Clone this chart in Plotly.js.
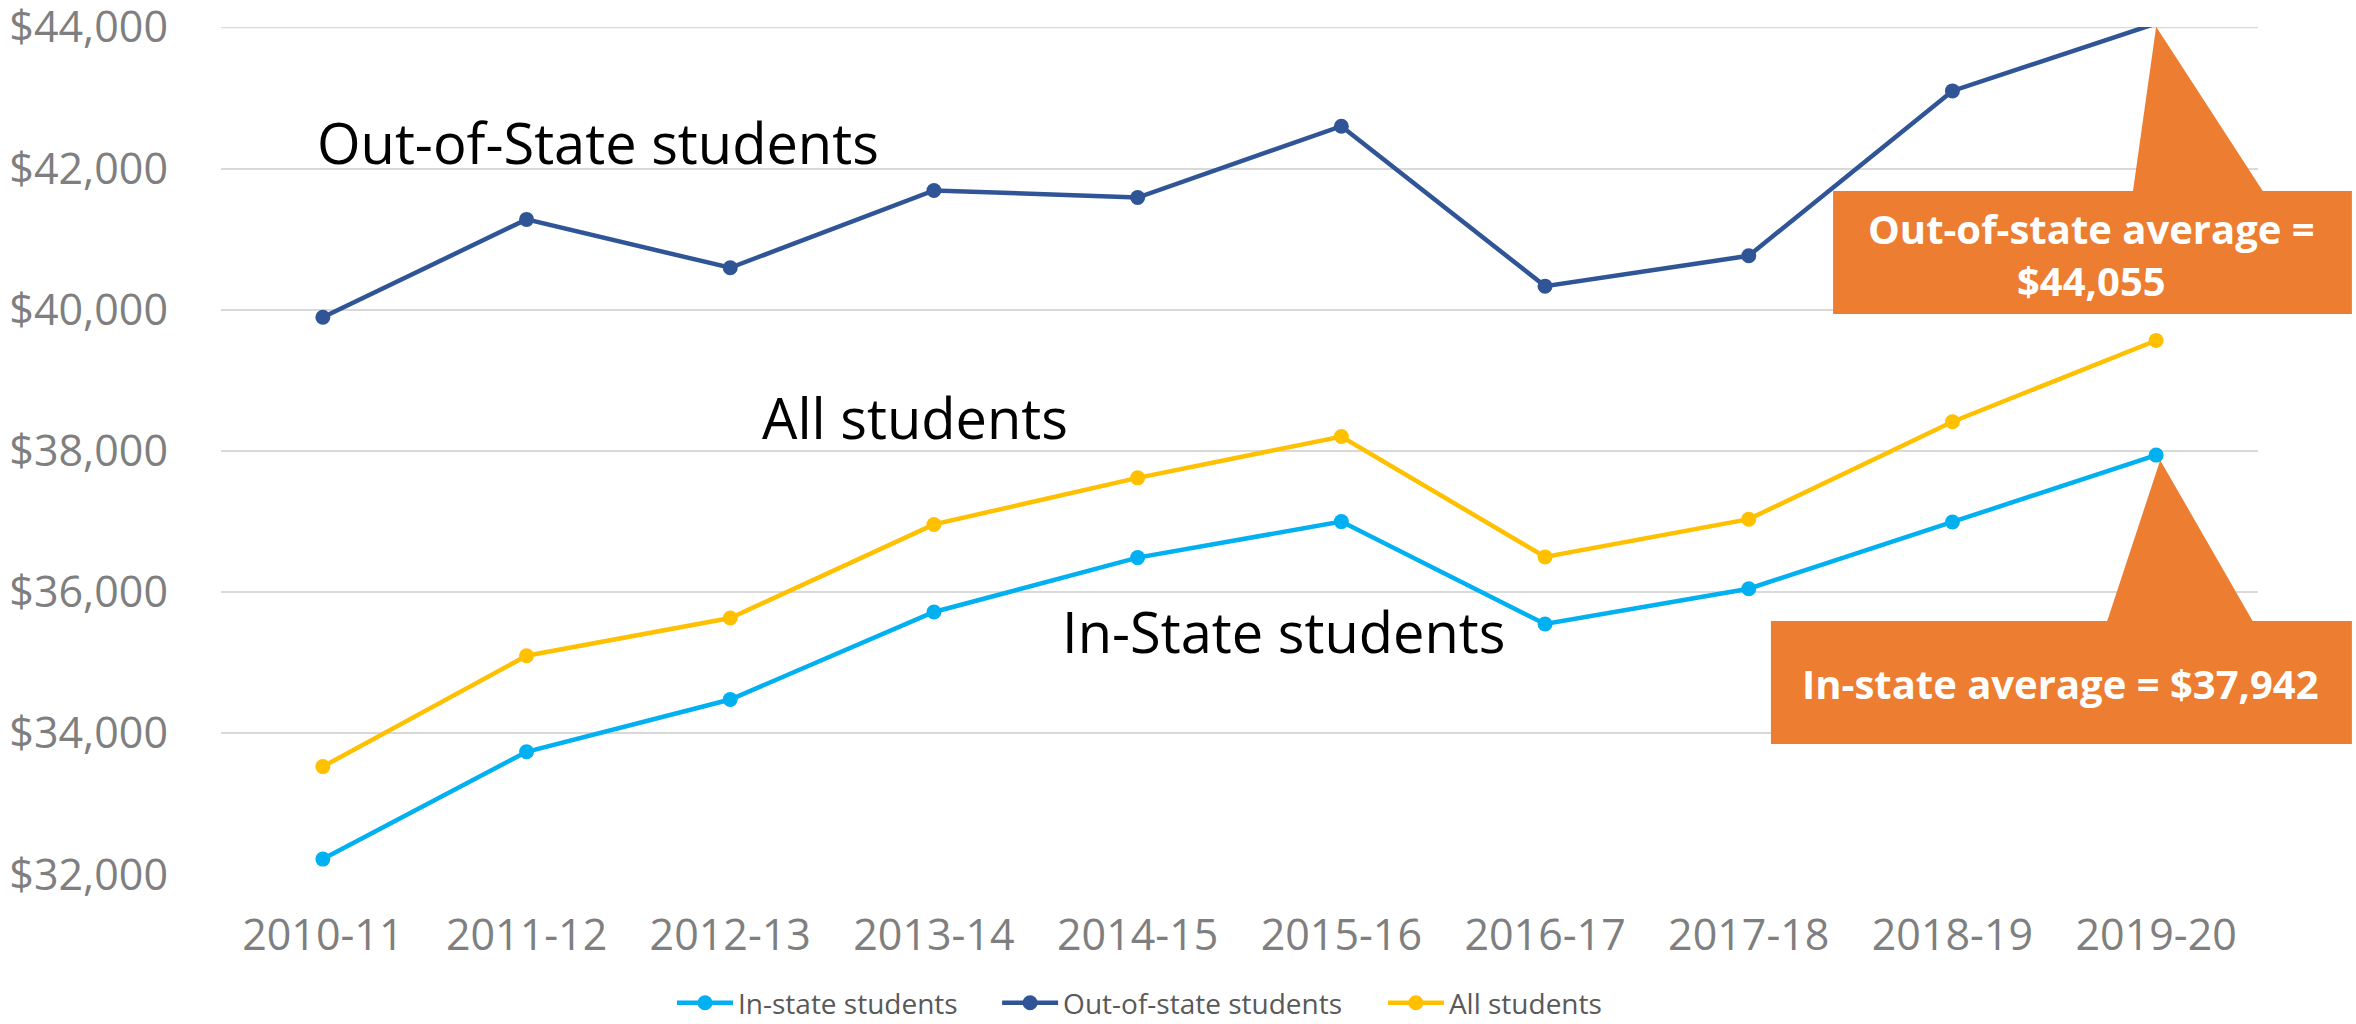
<!DOCTYPE html>
<html>
<head>
<meta charset="utf-8">
<script src="https://cdn.plot.ly/plotly-3.0.1.min.js"></script>
<style>
  html, body { margin: 0; padding: 0; background: #ffffff; }
  #chart { width: 2356px; height: 1024px; }
</style>
</head>
<body>
<div id="chart"></div>
<script>
// ---- Data ----
const years = ["2010-11", "2011-12", "2012-13", "2013-14", "2014-15",
               "2015-16", "2016-17", "2017-18", "2018-19", "2019-20"];
const inState  = [32220, 33740, 34480, 35720, 36490, 37000, 35550, 36050, 36995, 37942];
const outState = [39895, 41280, 40595, 41690, 41590, 42600, 40335, 40765, 43100, 44055];
const allStudents = [33530, 35100, 35635, 36960, 37620, 38205, 36500, 37035, 38415, 39565];
const seriesNames = ["In-state students", "Out-of-state students", "All students"];
const yTicks = [32000, 34000, 36000, 38000, 40000, 42000, 44000];

// ---- Styling ----
const colors = { inState: "#00B0F0", outState: "#2F5597", all: "#FFC000" };
const calloutColor = "#ED7D31";
const gridColor = "#D9D9D9";
const yMin = 31995, yMax = 44005;

function lineTrace(name, ys, color, legendId) {
  return {
    type: "scatter", mode: "lines+markers", name: name, legend: legendId,
    x: years, y: ys,
    line: { color: color, width: 4.5 },
    marker: { color: color, size: 15, symbol: "circle" },
    cliponaxis: false, hoverinfo: "skip"
  };
}

const traces = [
  lineTrace(seriesNames[0], inState, colors.inState, "legend"),
  lineTrace(seriesNames[1], outState, colors.outState, "legend2"),
  lineTrace(seriesNames[2], allStudents, colors.all, "legend3")
];

// helpers mapping data to paper coordinates for the callout pointers
const n = years.length;
const xPaper = i => (i + 0.5) / n;
const yPaper = v => (v - yMin) / (yMax - yMin);
const fmt = v => "$" + v.toLocaleString("en-US");

const last = n - 1;
const outTipX = xPaper(last), outTipY = yPaper(outState[last]);
const inTipX = xPaper(last) + 0.002, inTipY = yPaper(inState[last]);

const shapes = [
  // top gridline (Plotly drops the grid line sitting on the plot edge)
  { type: "line", xref: "paper", yref: "y", x0: 0, x1: 1, y0: yTicks[yTicks.length - 1], y1: yTicks[yTicks.length - 1],
    line: { color: gridColor, width: 2 }, layer: "below" },
  // Out-of-state callout box + pointer
  { type: "rect", xref: "paper", yref: "paper", x0: 0.7914, x1: 1.0461, y0: 0.6616, y1: 0.8066,
    fillcolor: calloutColor, line: { width: 0 }, layer: "above" },
  { type: "path", xref: "paper", yref: "paper",
    path: `M ${0.9386} ${0.8060} L ${outTipX} ${outTipY - 0.004} L ${1.0025} ${0.8060} Z`,
    fillcolor: calloutColor, line: { width: 0 }, layer: "above" },
  // In-state callout box + pointer
  { type: "rect", xref: "paper", yref: "paper", x0: 0.7609, x1: 1.0461, y0: 0.1545, y1: 0.2995,
    fillcolor: calloutColor, line: { width: 0 }, layer: "above" },
  { type: "path", xref: "paper", yref: "paper",
    path: `M ${0.9259} ${0.2990} L ${inTipX} ${inTipY - 0.006} L ${0.9975} ${0.2990} Z`,
    fillcolor: calloutColor, line: { width: 0 }, layer: "above" }
];

const labelFont = { family: "Open Sans, sans-serif", size: 56, color: "#000000" };
const calloutFont = { family: "Open Sans, sans-serif", size: 40, color: "#FFFFFF", weight: 700 };

const annotations = [
  { xref: "paper", yref: "paper", x: 0.1851, y: 0.8644, text: "Out-of-State students",
    showarrow: false, xanchor: "center", yanchor: "middle", font: labelFont },
  { xref: "paper", yref: "paper", x: 0.3407, y: 0.5401, text: "All students",
    showarrow: false, xanchor: "center", yanchor: "middle", font: labelFont },
  { xref: "paper", yref: "paper", x: 0.5214, y: 0.2877, text: "In-State students",
    showarrow: false, xanchor: "center", yanchor: "middle", font: labelFont },
  { xref: "paper", yref: "paper", x: 0.9185, y: 0.7323,
    text: "<b>Out-of-state average =</b><br><b>" + fmt(outState[last]) + "</b>",
    showarrow: false, xanchor: "center", yanchor: "middle", align: "center", font: calloutFont },
  { xref: "paper", yref: "paper", x: 0.9028, y: 0.2264,
    text: "<b>In-state average = " + fmt(inState[last]) + "</b>",
    showarrow: false, xanchor: "center", yanchor: "middle", align: "center", font: calloutFont }
];

const tickFont = { family: "Open Sans, sans-serif", size: 43, color: "#7F7F7F" };

function legendAt(x) {
  return {
    orientation: "h", x: x, xanchor: "left", y: -0.151, yanchor: "middle",
    font: { family: "Open Sans, sans-serif", size: 28, color: "#595959" },
    itemwidth: 56, bgcolor: "rgba(0,0,0,0)", borderwidth: 0
  };
}

const layout = {
  width: 2356, height: 1024,
  margin: { l: 221, r: 98, t: 27, b: 149, pad: 0, autoexpand: false },
  paper_bgcolor: "#FFFFFF", plot_bgcolor: "#FFFFFF",
  showlegend: true,
  legend: legendAt(0.2214),
  legend2: legendAt(0.3810),
  legend3: legendAt(0.5704),
  xaxis: {
    type: "category", range: [-0.5, n - 0.5],
    showgrid: false, zeroline: false, showline: false, ticks: "",
    tickfont: tickFont, ticklabelstandoff: 31, fixedrange: true
  },
  yaxis: {
    range: [yMin, yMax], tickvals: yTicks,
    ticktext: yTicks.map(fmt),
    showgrid: true, gridcolor: gridColor, gridwidth: 2,
    zeroline: false, showline: false, ticks: "",
    tickfont: tickFont, ticklabelstandoff: 52, ticklabeloverflow: "allow", fixedrange: true
  },
  shapes: shapes,
  annotations: annotations,
  hovermode: false
};

Plotly.newPlot("chart", traces, layout, { displayModeBar: false, staticPlot: true });
</script>
</body>
</html>
